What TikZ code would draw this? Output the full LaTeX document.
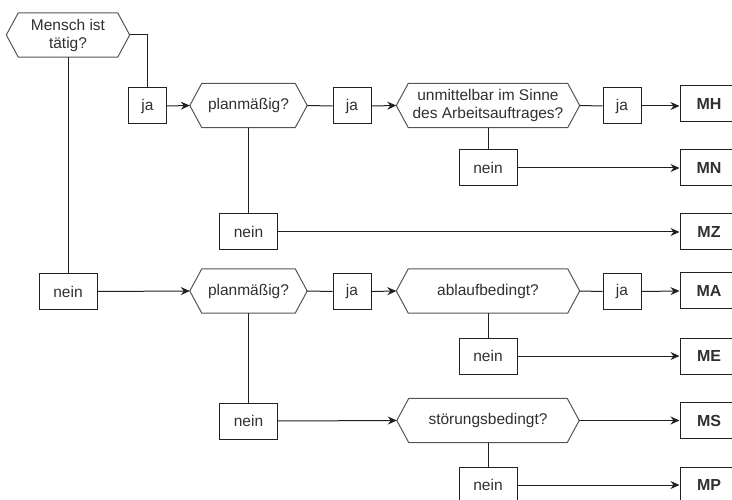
\documentclass[tikz,border=0pt]{standalone}
\usepackage{fontspec}
\setmainfont{Liberation Sans}
\usetikzlibrary{arrows.meta}
\definecolor{txt}{HTML}{303030}
\definecolor{ln}{HTML}{202020}
\definecolor{hx}{HTML}{555555}
\tikzset{
  base/.style={inner sep=0pt, text=txt, font=\fontsize{15.5}{18}\selectfont},
  boxnode/.style={base, draw=ln, line width=1pt, minimum height=36pt},
  janode/.style={boxnode, minimum width=38pt},
  neinnode/.style={boxnode, minimum width=58pt},
  resnode/.style={boxnode, minimum width=58pt, font=\fontsize{16}{18}\selectfont\bfseries},
  hexbody/.style={base, minimum height=44pt, align=center},
  hexline/.style={draw=hx, line width=1pt, line join=miter},
  conn/.style={draw=ln, line width=1pt},
  arr/.style={conn, -{Stealth[length=9pt,width=8pt,inset=3pt]}},
}
\newcommand\myhex[4]{%
  \node[hexbody, minimum width=#3] (#1) at (#2) {#4};
  \draw[hexline] (#1.north west) -- (#1.north east) -- ([xshift=12pt]#1.east) coordinate (#1-r)
    -- (#1.south east) -- (#1.south west) -- ([xshift=-12pt]#1.west) coordinate (#1-l) -- cycle;
}
\begin{document}
\begin{tikzpicture}[x=1pt,y=-1pt]
\useasboundingbox (0,0) rectangle (732,500);
% hexagons
\myhex{hM}{68,35}{99pt}{Mensch ist\\tätig?}
\myhex{hPa}{248.5,105.5}{93pt}{planmäßig?}
\myhex{hU}{488,105.5}{159pt}{unmittelbar im Sinne\\des Arbeitsauftrages?}
\myhex{hPb}{248.5,291}{93pt}{planmäßig?}
\myhex{hA}{488,291}{159pt}{ablaufbedingt?}
\myhex{hS}{488,420.5}{158pt}{störungsbedingt?}
% boxes
\node[janode] (jaM) at (147.5,106) {ja};
\node[janode] (jaA) at (352,106) {ja};
\node[janode] (jaB) at (622,106) {ja};
\node[resnode] (MH) at (709,104) {MH};
\node[neinnode] (nU) at (488,168) {nein};
\node[resnode] (MN) at (709,168) {MN};
\node[neinnode] (nPa) at (248.5,232) {nein};
\node[resnode] (MZ) at (709,232) {MZ};
\node[neinnode] (nM) at (68,291.5) {nein};
\node[janode] (jaC) at (352,291.5) {ja};
\node[janode] (jaD) at (622,291.5) {ja};
\node[resnode] (MA) at (709,291) {MA};
\node[neinnode] (nA) at (488,356) {nein};
\node[resnode] (ME) at (709,356) {ME};
\node[neinnode] (nPb) at (248.5,421) {nein};
\node[resnode] (MS) at (709,420.5) {MS};
\node[neinnode] (nS) at (488,485) {nein};
\node[resnode] (MP) at (709,485) {MP};
% connectors
\draw[conn] (hM-r) -| (jaM.north);
\draw[arr] (jaM.east) -- (hPa-l);
\draw[conn] (hPa-r) -- (jaA.west);
\draw[arr] (jaA.east) -- (hU-l);
\draw[conn] (hU-r) -- (jaB.west);
\draw[arr] (jaB.east) -- (MH.west |- jaB.east);
\draw[conn] (hU.south) -- (nU.north);
\draw[arr] (nU.east) -- (MN.west);
\draw[conn] (hPa.south) -- (nPa.north);
\draw[arr] (nPa.east) -- (MZ.west);
\draw[conn] (hM.south) -- (nM.north);
\draw[arr] (nM.east) -- (hPb-l);
\draw[conn] (hPb-r) -- (jaC.west);
\draw[arr] (jaC.east) -- (hA-l);
\draw[conn] (hA-r) -- (jaD.west);
\draw[arr] (jaD.east) -- (MA.west);
\draw[conn] (hA.south) -- (nA.north);
\draw[arr] (nA.east) -- (ME.west);
\draw[conn] (hPb.south) -- (nPb.north);
\draw[arr] (nPb.east) -- (hS-l);
\draw[arr] (hS-r) -- (MS.west);
\draw[conn] (hS.south) -- (nS.north);
\draw[arr] (nS.east) -- (MP.west);
\end{tikzpicture}
\end{document}
